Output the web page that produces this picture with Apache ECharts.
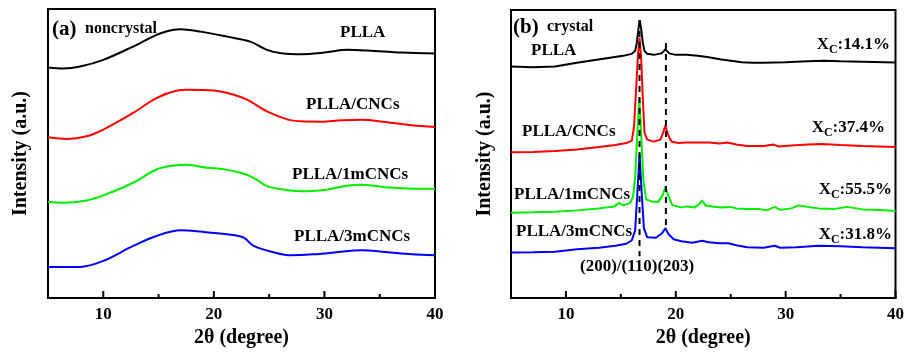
<!DOCTYPE html>
<html>
<head>
<meta charset="utf-8">
<script src="https://cdn.jsdelivr.net/npm/echarts@6/dist/echarts.min.js"></script>
<style>
  html, body { margin: 0; padding: 0; background: #fff; }
  #chart { width: 907px; height: 353px; }
</style>
</head>
<body>
<div id="chart"></div>
<script>
// X-ray diffraction patterns of PLLA films, vertically offset for clarity.
// (a) amorphous (noncrystal) films, (b) crystallized films.
const seriesNames = ['PLLA', 'PLLA/CNCs', 'PLLA/1mCNCs', 'PLLA/3mCNCs'];
const seriesColors = ['#000000', '#ff0000', '#00ee00', '#0000ff'];
const xTickLabels = [10, 20, 30, 40];
const xMinorTicks = [15, 25, 35];
const crystallinity = ['14.1%', '37.4%', '55.5%', '31.8%'];
const peakIndices = ['(200)/(110)', '(203)'];

// Panel (a): [2θ, intensity (a.u., offset)]
const noncrystalPLLA = [[5,231.3],[6.4,230.3],[7.9,232.3],[10,239],[12.7,252.3],[15.2,265.7],[17,269.7],[18.8,267.3],[21.2,262.3],[23.3,257.3],[24.8,249],[26.1,245.7],[27.9,244.7],[30,246.3],[32.1,249],[33.9,248.3],[37,246.3],[40,245.3]];
const noncrystalCNCs = [[5,161.3],[6.7,159.7],[8.5,162.3],[10,169],[12.7,185.7],[14.8,200.7],[16.7,208.3],[17.6,209],[20,208.3],[21.8,204],[23,199],[24.8,187.3],[26.7,179],[27.9,177.3],[29.7,177],[31.5,178.3],[33.3,179],[35.5,176.7],[37.9,173.3],[40,171.7]];
const noncrystal1m = [[5,96.7],[6.4,95.7],[8.5,98],[10,103],[12.7,115.7],[14.8,129],[16.4,133],[17.6,133.7],[19.4,130.7],[20.6,129.7],[22.4,125.7],[23.6,120.7],[24.8,112.3],[26.7,108.3],[28.5,107.3],[30.3,109],[31.8,112.3],[33.3,113.7],[35.5,111.3],[37.9,109.7],[40,109.7]];
const noncrystal3m = [[5,31.3],[7.9,31.3],[10,37.3],[12.7,52.3],[14.8,62.3],[17,68],[18.8,66.7],[21.2,64],[22.7,60.7],[23.6,52.3],[25.5,45.7],[27,43],[29.1,44],[30.9,45.7],[33.3,48],[35.5,46.3],[37.9,44],[40,43]];

// Panel (b): [2θ, intensity (a.u., offset)]
const crystalPLLA = [[5,232.3],[7,231.5],[9,232.3],[11,236],[12.5,238.5],[14,241],[15.2,243],[16.0,245],[16.3,248],[16.45,256],[16.6,270],[16.72,278.5],[16.85,270],[17.0,256],[17.15,248],[17.4,245],[18.0,244],[18.7,245.5],[19.05,249.5],[19.4,245.5],[20,244],[21,244],[22,243],[23,241.5],[24,239.5],[25,238],[26,236.5],[27,236],[28,236],[30,236.5],[32,237.5],[33.5,238],[35,237.5],[37,237],[40,236.3]];
const crystalCNCs = [[5,146.3],[7,146.5],[9,147.5],[11,149],[13,151.5],[14.5,153.5],[15.5,155.5],[16.0,158],[16.2,172],[16.4,212],[16.55,243],[16.7,261],[16.85,240],[17.0,200],[17.15,166],[17.4,159],[18.0,157],[18.6,159],[18.85,166],[19.05,173],[19.3,164],[19.6,157],[20.2,155.5],[21,156],[22,156],[23,156],[24,155],[24.7,156],[25.5,154],[26.5,152.5],[28,152.5],[28.9,154],[29.4,152],[30.5,153],[32,154],[33.3,154.5],[35,153.5],[37,152.5],[40,151.5]];
const crystal1m = [[5,85.7],[7,86],[9,86.5],[11,88],[13,90],[14.4,92],[14.85,95.5],[15.2,93],[15.8,95],[16.1,101],[16.3,120],[16.5,165],[16.68,201],[16.85,165],[17.05,118],[17.3,99],[17.8,97],[18.4,96.5],[18.8,103],[19.05,111.5],[19.3,103],[19.7,93],[20.5,91],[21,92],[21.7,91],[22.1,94],[22.4,98],[22.7,93],[23.3,92],[24.1,91],[25,91.5],[25.5,90],[26.5,89.5],[27.5,89.5],[28.3,88],[29,91.5],[29.5,88.5],[30.5,90],[31.2,93],[32,91.5],[33,90],[34.5,89.5],[35.6,91.5],[37,89],[38.5,88.5],[40,87.3]];
const crystal3m = [[5,45.7],[7,46],[9,46.5],[11,49],[13,50.5],[14.5,52.5],[15.5,54.5],[16.0,58],[16.3,68],[16.5,105],[16.7,144],[16.9,105],[17.1,70],[17.4,61],[18.2,60.5],[18.75,65],[19.05,70],[19.35,64],[19.8,59],[20.5,57],[21.5,55.5],[22.4,57.5],[23,56],[24,55],[24.8,55],[25.5,53],[26.5,51],[28,50.5],[29,52.5],[29.5,50.5],[31,51],[33,52.5],[35,52],[37,51],[40,50]];

// Reflection guides at the (200)/(110) and (203) peaks
const guide200 = [[16.7, 279], [16.7, 42]];
const guide203 = [[19.1, 256], [19.1, 71]];

const SERIF = '"Liberation Serif", "Times New Roman", serif';
const chart = echarts.init(document.getElementById('chart'));

function xAxis(gridIndex) {
  return {
    type: 'value', gridIndex, min: 5, max: 40, interval: 5,
    axisLine: { show: true, lineStyle: { color: '#000', width: 2 } },
    splitLine: { show: false },
    axisTick: { show: false },
    axisLabel: { customValues: xTickLabels, color: '#000', fontFamily: SERIF,
                 fontWeight: 'bold', fontSize: 17, margin: 8 },
    name: '2θ (degree)', nameLocation: 'middle', nameGap: 27,
    nameTextStyle: { color: '#000', fontFamily: SERIF, fontWeight: 'bold', fontSize: 20 }
  };
}

function yAxis(gridIndex, max, gap) {
  return {
    type: 'value', gridIndex, min: 0, max,
    axisLine: { show: false }, axisTick: { show: false },
    axisLabel: { show: false }, splitLine: { show: false },
    name: 'Intensity (a.u.)', nameLocation: 'middle', nameRotate: 90, nameGap: gap,
    nameTextStyle: { color: '#000', fontFamily: SERIF, fontWeight: 'bold', fontSize: 20 }
  };
}

function trace(data, color, axis, smooth) {
  return {
    type: 'line', data, xAxisIndex: axis, yAxisIndex: axis,
    showSymbol: false, smooth, animation: false,
    lineStyle: { color, width: 2 }
  };
}

function guide(data) {
  return {
    type: 'line', data, xAxisIndex: 1, yAxisIndex: 1, z: 5,
    showSymbol: false, animation: false,
    lineStyle: { color: '#000', width: 2, type: [6, 5] }
  };
}

// Inward tick marks along the 2θ axis (major every 10°, minor in between),
// drawn as short broken segments rising from the baseline
function tickMarks(axis) {
  const pts = [];
  xTickLabels.forEach(v => pts.push([v, 0], [v, 7], [v, '-']));
  xMinorTicks.forEach(v => pts.push([v, 0], [v, 4], [v, '-']));
  return {
    type: 'line', data: pts, xAxisIndex: axis, yAxisIndex: axis, z: 6,
    showSymbol: false, silent: true, animation: false, connectNulls: false, clip: false,
    lineStyle: { color: '#000', width: 2 }
  };
}

const nonData = [noncrystalPLLA, noncrystalCNCs, noncrystal1m, noncrystal3m];
const cryData = [crystalPLLA, crystalCNCs, crystal1m, crystal3m];

const txt = (left, top, text, size) => ({
  type: 'text', left, top, z: 10,
  style: { text, fill: '#000', font: 'bold ' + size + 'px ' + SERIF }
});

const xcLabel = (right, top, value) => ({
  type: 'text', right, top, z: 10,
  style: {
    text: '{m|X}{s|C}{m|:' + value + '}',
    rich: {
      m: { fontFamily: SERIF, fontWeight: 'bold', fontSize: 17, fill: '#000', verticalAlign: 'top' },
      s: { fontFamily: SERIF, fontWeight: 'bold', fontSize: 12, fill: '#000', padding: [8, 0, 0, 0], verticalAlign: 'top' }
    }
  }
});

chart.setOption({
  backgroundColor: '#fff',
  grid: [
    { left: 48, top: 9, width: 387, height: 290, show: true, borderColor: '#000', borderWidth: 2, backgroundColor: 'transparent' },
    { left: 511, top: 10, width: 386, height: 289, show: true, borderColor: '#000', borderWidth: 2, backgroundColor: 'transparent' }
  ],
  xAxis: [xAxis(0), xAxis(1)],
  yAxis: [yAxis(0, 290, 17), yAxis(1, 289, 16)],
  series: [
    ...nonData.map((d, i) => trace(d, seriesColors[i], 0, 0.35)),
    ...cryData.map((d, i) => trace(d, seriesColors[i], 1, false)),
    guide(guide200), guide(guide203),
    tickMarks(0), tickMarks(1)
  ],
  graphic: [
    txt(52, 19, '(a)', 21),
    txt(85, 21, 'noncrystal', 16),
    txt(340, 24, seriesNames[0], 17),
    txt(306, 96, seriesNames[1], 17),
    txt(292, 166, seriesNames[2], 17),
    txt(294, 228, seriesNames[3], 17),

    txt(513, 17, '(b)', 21),
    txt(547, 19, 'crystal', 16),
    txt(531, 42, seriesNames[0], 17),
    txt(522, 123, seriesNames[1], 17),
    txt(514, 186, seriesNames[2], 17),
    txt(516, 223, seriesNames[3], 17),
    txt(580, 258, peakIndices[0] + peakIndices[1], 17),

    xcLabel(17, 36, crystallinity[0]),
    xcLabel(22, 119, crystallinity[1]),
    xcLabel(15, 181, crystallinity[2]),
    xcLabel(15, 226, crystallinity[3])
  ]
});
</script>
</body>
</html>
